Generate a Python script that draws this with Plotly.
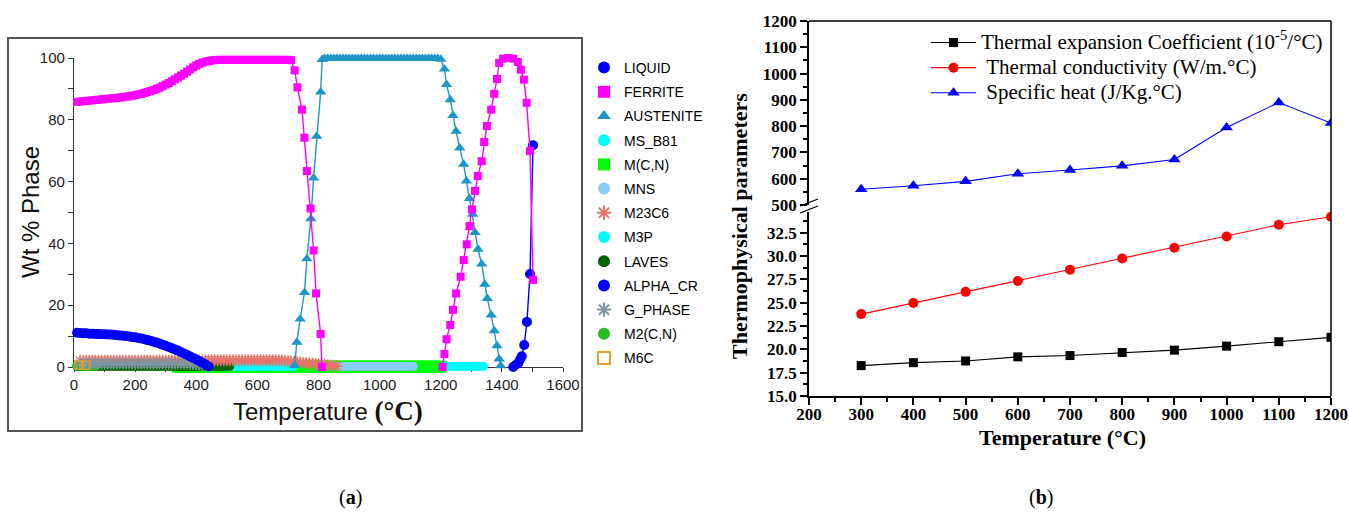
import plotly.graph_objects as go

W, H = 1349, 516
def px(x): return x / W
def py(y): return 1 - y / H

# ---------------- Panel (a): phase fractions ----------------
# LIQUID (high temperature)
liq_T = [1437, 1447, 1454, 1460, 1465, 1473, 1482, 1492, 1502]
liq_v = [0.0, 0.8, 1.3, 2.5, 3.5, 7.1, 14.6, 30.1, 71.8]

# FERRITE
fer_T = [10, 20, 30, 40, 50, 60, 70, 80, 90, 100, 110, 120, 130, 140, 150, 160, 170, 180, 190, 200,
         210, 220, 230, 240, 250, 260, 270, 280, 290, 300, 310, 320, 330, 340, 350, 360, 370, 380, 390, 400,
         410, 420, 430, 440, 450, 460, 470, 480, 490, 500, 510, 520, 530, 540, 550, 560, 570, 580, 590, 600,
         610, 620, 630, 640, 650, 660, 670, 680, 690, 700, 710,
         722, 731, 746, 754, 762, 774, 784, 792, 807, 811, None,
         1206, 1212, 1219, 1231, 1240, 1250, 1265, 1275, 1285, 1294, 1302, 1312, 1321, 1334, 1342, 1351,
         1365, 1375, 1384, 1391, 1404, 1422, 1437, 1452, 1462, 1472, 1481, 1492, 1502]
fer_v = [85.8, 85.9, 86.0, 86.1, 86.2, 86.3, 86.4, 86.5, 86.6, 86.7, 86.8, 86.9, 87.0, 87.1, 87.2, 87.3, 87.5, 87.6, 87.8, 88.0,
         88.2, 88.4, 88.7, 89.0, 89.3, 89.6, 90.0, 90.4, 90.9, 91.4, 91.9, 92.5, 93.1, 93.7, 94.3, 94.9, 95.6, 96.3, 97.0, 97.6,
         98.1, 98.5, 98.8, 99.0, 99.2, 99.3, 99.4, 99.4, 99.4, 99.4, 99.4, 99.4, 99.4, 99.4, 99.4, 99.4, 99.4, 99.4, 99.4, 99.4,
         99.4, 99.4, 99.4, 99.4, 99.4, 99.4, 99.4, 99.4, 99.4, 99.4, 99.3,
         96.0, 90.5, 83.3, 74.2, 63.4, 51.3, 37.7, 23.8, 10.7, 0.0, None,
         0.0, 4.2, 9.0, 13.6, 18.5, 23.8, 29.2, 34.6, 39.7, 45.6, 51.0, 57.0, 61.8, 66.6, 72.8, 78.0,
         83.3, 88.4, 93.2, 98.4, 99.8, 100.0, 99.8, 98.7, 96.2, 93.0, 85.5, 69.9, 28.2]

# AUSTENITE
aus_T = [722, 729, 740, 754, 762, 775, 784, 794, 807, 812,
         820, 830, 840, 850, 860, 870, 880, 890, 900, 910, 920, 930, 940, 950, 960, 970, 980, 990, 1000,
         1010, 1020, 1030, 1040, 1050, 1060, 1070, 1080, 1090, 1100, 1110, 1120, 1130, 1140, 1150, 1160,
         1170, 1180, 1190, 1200,
         1212, 1219, 1231, 1240, 1250, 1262, 1275, 1284, 1294, 1304, 1312, 1322, 1334, 1344, 1352, 1365,
         1375, 1384, 1391, 1396]
aus_v = [0.5, 8.0, 15.5, 24.1, 35.0, 48.0, 61.2, 74.7, 89.0, 99.5,
         99.8, 99.8, 99.8, 99.8, 99.8, 99.8, 99.8, 99.8, 99.8, 99.8, 99.8, 99.8, 99.8, 99.8, 99.8, 99.8, 99.8, 99.8, 99.8,
         99.8, 99.8, 99.8, 99.8, 99.8, 99.8, 99.8, 99.8, 99.8, 99.8, 99.8, 99.8, 99.8, 99.8, 99.8, 99.8,
         99.8, 99.8, 99.8, 99.6,
         96.4, 91.4, 86.5, 81.4, 76.3, 70.9, 65.6, 60.2, 54.5, 49.4, 43.5, 38.1, 33.3, 26.8, 22.2, 16.8,
         11.7, 6.9, 2.6, 0.4]

# ALPHA_CR (low temperature)
acr_T = [10, 20, 30, 40, 50, 60, 70, 80, 90, 100, 110, 120, 130, 140, 150, 160, 170, 180, 190, 200,
         210, 220, 230, 240, 250, 260, 270, 280, 290, 300, 310, 320, 330, 340, 350, 360, 370, 380, 390, 400,
         410, 420, 430, 440]
acr_v = [11.1, 11.0, 10.9, 10.9, 10.8, 10.8, 10.7, 10.7, 10.6, 10.6, 10.5, 10.5, 10.4, 10.3, 10.2, 10.1, 10.0, 9.9, 9.7, 9.6,
         9.4, 9.2, 9.0, 8.7, 8.5, 8.2, 7.9, 7.6, 7.2, 6.9, 6.5, 6.1, 5.7, 5.3, 4.8, 4.4, 3.9, 3.4, 2.9, 2.4,
         1.9, 1.4, 0.8, 0.2]

# M23C6
m23_T = [20, 30, 40, 50, 60, 70, 80, 90, 100, 110, 120, 130, 140, 150, 160, 170, 180, 190, 200, 210,
         220, 230, 240, 250, 260, 270, 280, 290, 300, 310, 320, 330, 340, 350, 360, 370, 380, 390, 400, 410,
         420, 430, 440, 450, 460, 470, 480, 490, 500, 510, 520, 530, 540, 550, 560, 570, 580, 590, 600, 610,
         620, 630, 640, 650, 660, 670, 680, 690, 700, 710, 720, 730, 740, 750, 760, 770, 780, 790, 800, 810,
         820, 830, 840, 850, 860]
m23_v = [2.0, 2.0, 2.0, 2.0, 2.0, 2.0, 2.0, 2.0, 2.0, 2.0, 2.0, 2.0, 2.0, 2.0, 2.0, 2.0, 2.0, 2.0, 2.0, 2.0,
         2.0, 2.0, 2.0, 2.0, 2.0, 2.0, 2.0, 2.0, 2.0, 2.0, 2.0, 2.0, 2.0, 2.0, 2.0, 2.0, 2.1, 2.1, 2.1, 2.1,
         2.1, 2.1, 2.2, 2.2, 2.2, 2.2, 2.2, 2.2, 2.2, 2.2, 2.2, 2.2, 2.2, 2.2, 2.2, 2.2, 2.2, 2.2, 2.2, 2.2,
         2.2, 2.2, 2.2, 2.2, 2.2, 2.2, 2.1, 2.0, 1.9, 1.8, 1.7, 1.6, 1.5, 1.4, 1.3, 1.2, 1.1, 1.0, 0.9, 0.8,
         0.7, 0.6, 0.5, 0.4, 0.3]

# G_PHASE
gph_T = [20, 30, 40, 50, 60, 70, 80, 90, 100, 110, 120, 130, 140, 150, 160, 170, 180, 190, 200, 210,
         220, 230, 240, 250, 260, 270, 280, 290, 300, 310, 320, 330, 340, 350, 360, 370, 380, 390, 400, 410,
         420, 430]
gph_v = [1.1, 1.1, 1.1, 1.1, 1.1, 1.1, 1.1, 1.1, 1.1, 1.1, 1.1, 1.1, 1.1, 1.1, 1.1, 1.1, 1.1, 1.1, 1.1, 1.1,
         1.1, 1.1, 1.1, 1.1, 1.1, 1.1, 1.1, 1.1, 1.1, 1.1, 1.1, 1.1, 1.1, 1.1, 1.1, 1.1, 1.0, 1.0, 0.9, 0.8,
         0.7, 0.6]

# LAVES
lav_T = [10, 20, 30, 40, 50, 60, 70, 80, 90, 100, 110, 120, 130, 140, 150, 160, 170, 180, 190, 200,
         210, 220, 230, 240, 250, 260, 270, 280, 290, 300, 310, 320, 330, 340, 350, 360, 370, 380, 390, 400,
         410, 420, 430, 440, 450, 460, 470, 480, 490, 500, 510]
lav_v = [0.2, 0.2, 0.2, 0.2, 0.2, 0.2, 0.2, 0.2, 0.2, 0.2, 0.2, 0.2, 0.2, 0.2, 0.2, 0.2, 0.2, 0.2, 0.2, 0.2,
         0.2, 0.2, 0.2, 0.2, 0.2, 0.2, 0.2, 0.2, 0.2, 0.2, 0.2, 0.2, 0.2, 0.2, 0.2, 0.2, 0.2, 0.2, 0.2, 0.2,
         0.2, 0.2, 0.2, 0.2, 0.2, 0.2, 0.2, 0.2, 0.2, 0.2, 0.2]

# M(C,N)
mcn_T = [340, 350, 360, 370, 380, 390, 400, 410, 420, 430, 440, 450, 460, 470, 480, 490, 500, 510, 520, 530,
         540, 550, 560, 570, 580, 590, 600, 610, 620, 630, 640, 650, 660, 670, 680, 690, 700, 710, 720, 730,
         740, 750, 760, 770, 780, 790, 800, 810, 820, 830, 840, 850, 860, 870, 880, 890, 900, 910, 920, 930,
         940, 950, 960, 970, 980, 990, 1000, 1010, 1020, 1030, 1040, 1050, 1060, 1070, 1080, 1090, 1100,
         1110, 1120, 1130, 1140, 1150, 1160, 1170, 1180, 1190, 1200]
mcn_v = [0.1, 0.1, 0.1, 0.1, 0.1, 0.1, 0.1, 0.1, 0.1, 0.1, 0.1, 0.1, 0.1, 0.1, 0.1, 0.1, 0.1, 0.1, 0.1, 0.1,
         0.1, 0.1, 0.1, 0.1, 0.1, 0.1, 0.1, 0.1, 0.1, 0.1, 0.1, 0.1, 0.1, 0.1, 0.1, 0.1, 0.1, 0.1, 0.1, 0.1,
         0.1, 0.1, 0.1, 0.1, 0.1, 0.1, 0.1, 0.1, 0.1, 0.1, 0.1, 0.1, 0.1, 0.1, 0.1, 0.1, 0.1, 0.1, 0.1, 0.1,
         0.1, 0.1, 0.1, 0.1, 0.1, 0.1, 0.1, 0.1, 0.1, 0.1, 0.1, 0.1, 0.1, 0.1, 0.1, 0.1, 0.1,
         0.1, 0.1, 0.1, 0.1, 0.1, 0.1, 0.1, 0.1, 0.1, 0.1]

# MS_B81
msb_T = [510, 520, 530, 540, 550, 560, 570, 580, 590, 600, 610, 620, 630, 640, 650, 660, 670, 680, 690, 700, 710, 720]
msb_v = [0.2, 0.2, 0.2, 0.2, 0.2, 0.2, 0.2, 0.2, 0.2, 0.2, 0.2, 0.2, 0.2, 0.2, 0.2, 0.2, 0.2, 0.2, 0.2, 0.2, 0.2, 0.2]

# MNS
mns_T = [870, 880, 890, 900, 910, 920, 930, 940, 950, 960, 970, 980, 990, 1000, 1010, 1020, 1030, 1040, 1050,
         1060, 1070, 1080, 1090, 1100, 1110]
mns_v = [0.2, 0.2, 0.2, 0.2, 0.2, 0.2, 0.2, 0.2, 0.2, 0.2, 0.2, 0.2, 0.2, 0.2, 0.2, 0.2, 0.2, 0.2, 0.2,
         0.2, 0.2, 0.2, 0.2, 0.2, 0.2]

# M3P
m3p_T = [1210, 1220, 1230, 1240, 1250, 1260, 1270, 1280, 1290, 1300, 1310, 1320, 1330, 1340]
m3p_v = [0.2, 0.2, 0.2, 0.2, 0.2, 0.2, 0.2, 0.2, 0.2, 0.2, 0.2, 0.2, 0.2, 0.2]

# M2(C,N)
m2c_T = [10, 20, 30, 40, 50, 60, 70]
m2c_v = [0.4, 0.4, 0.4, 0.4, 0.4, 0.4, 0.4]

# M6C
m6c_T = [16, 39]
m6c_v = [0.7, 0.5]

phase_names = ["LIQUID", "FERRITE", "AUSTENITE", "MS_B81", "M(C,N)", "MNS", "M23C6",
               "M3P", "LAVES", "ALPHA_CR", "G_PHASE", "M2(C,N)", "M6C"]

# ---------------- Panel (b): thermophysical parameters ----------------
temp_b = [300, 400, 500, 600, 700, 800, 900, 1000, 1100, 1200]
thermal_expansion = [18.25, 18.57, 18.75, 19.19, 19.33, 19.66, 19.91, 20.34, 20.81, 21.28]
thermal_conductivity = [23.77, 24.96, 26.15, 27.31, 28.53, 29.72, 30.88, 32.07, 33.33, 34.2]
specific_heat = [560, 573, 590, 619, 633, 649, 673, 795, 890, 812]

# ---------------- styles ----------------
styles = {
    "LIQUID":   dict(symbol="circle", color="#0000FF", size=10),
    "FERRITE":  dict(symbol="square", color="#FF00FF", size=8),
    "AUSTENITE": dict(symbol="triangle-up", color="#1E96C8", size=10),
    "MS_B81":   dict(symbol="circle", color="#00FFFF", size=9),
    "M(C,N)":   dict(symbol="square", color="#00FF00", size=12),
    "MNS":      dict(symbol="circle", color="#87CEFA", size=9),
    "M23C6":    dict(symbol="asterisk-open", color="#E8736C", size=10),
    "M3P":      dict(symbol="circle", color="#00FFFF", size=9),
    "LAVES":    dict(symbol="circle", color="#006400", size=9),
    "ALPHA_CR": dict(symbol="circle", color="#0000FF", size=10),
    "G_PHASE":  dict(symbol="asterisk-open", color="#7F979E", size=10),
    "M2(C,N)":  dict(symbol="circle", color="#22C022", size=10),
    "M6C":      dict(symbol="square-open", color="#E0A030", size=8),
}

series = {
    "LIQUID": (liq_T, liq_v), "FERRITE": (fer_T, fer_v), "AUSTENITE": (aus_T, aus_v),
    "MS_B81": (msb_T, msb_v), "M(C,N)": (mcn_T, mcn_v), "MNS": (mns_T, mns_v),
    "M23C6": (m23_T, m23_v), "M3P": (m3p_T, m3p_v), "LAVES": (lav_T, lav_v),
    "ALPHA_CR": (acr_T, acr_v), "G_PHASE": (gph_T, gph_v), "M2(C,N)": (m2c_T, m2c_v),
    "M6C": (m6c_T, m6c_v),
}

draw_order = ["LIQUID", "M(C,N)", "MNS", "MS_B81", "M3P", "LAVES", "M2(C,N)", "M23C6", "G_PHASE",
              "M6C", "ALPHA_CR", "AUSTENITE", "FERRITE"]

fig = go.Figure()

def marker_dict(name):
    s = styles[name]
    m = dict(symbol=s["symbol"], color=s["color"], size=s["size"])
    if "open" in s["symbol"]:
        m["line"] = dict(color=s["color"], width=1.3)
    else:
        m["line"] = dict(width=0)
    return m

for name in draw_order:
    T, v = series[name]
    fig.add_trace(go.Scatter(
        x=T, y=v, mode="lines+markers", name=name, showlegend=False,
        line=dict(color=styles[name]["color"], width=1.4),
        marker=marker_dict(name), cliponaxis=False, xaxis="x", yaxis="y"))

# legend entries (panel a)
for name in phase_names:
    fig.add_trace(go.Scatter(
        x=[None], y=[None], mode="markers", name=name, legend="legend",
        legendgroup=name, marker=marker_dict(name), xaxis="x", yaxis="y"))

LEG_B = "<span style='font-size:21px'>%s</span>"
# panel b traces
fig.add_trace(go.Scatter(
    x=temp_b, y=thermal_expansion, mode="lines+markers",
    name=LEG_B % "Thermal expansion Coefficient (10<sup>-5</sup>/°C)",
    line=dict(color="black", width=1.1), marker=dict(symbol="square", size=9, color="black"),
    xaxis="x2", yaxis="y3", legend="legend2"))
fig.add_trace(go.Scatter(
    x=temp_b, y=thermal_conductivity, mode="lines+markers",
    name=LEG_B % "\u00a0Thermal conductivity (W/m.°C)",
    line=dict(color="red", width=1.1), marker=dict(symbol="circle", size=10, color="red"),
    xaxis="x2", yaxis="y3", legend="legend2"))
fig.add_trace(go.Scatter(
    x=temp_b, y=specific_heat, mode="lines+markers",
    name=LEG_B % "\u00a0Specific heat (J/Kg.°C)",
    line=dict(color="blue", width=1.1), marker=dict(symbol="triangle-up", size=11, color="blue"),
    xaxis="x2", yaxis="y2", legend="legend2"))

ax_a_font = dict(family="Arial", size=15, color="#222222")
ax_b_font = dict(family="Liberation Serif", size=17, color="black", weight="bold")

shapes = [
    dict(type="rect", xref="paper", yref="paper", x0=px(8), x1=px(582), y0=py(431), y1=py(38),
         line=dict(color="#555555", width=2)),
    dict(type="line", xref="paper", yref="paper", x0=px(809), x1=px(1331), y0=py(21), y1=py(21),
         line=dict(color="black", width=1.5)),
    dict(type="line", xref="paper", yref="paper", x0=px(1331), x1=px(1331), y0=py(21), y1=py(396),
         line=dict(color="black", width=1.5)),
    dict(type="line", xref="paper", yref="paper", x0=px(800), x1=px(818), y0=py(206), y1=py(199),
         line=dict(color="black", width=1.3)),
    dict(type="line", xref="paper", yref="paper", x0=px(800), x1=px(818), y0=py(213), y1=py(206),
         line=dict(color="black", width=1.3)),
]

def ann(text, x, y, font, angle=0):
    return dict(text=text, x=px(x), y=py(y), xref="paper", yref="paper", xanchor="center",
                yanchor="middle", textangle=angle, showarrow=False, font=font)

annotations = [
    ann("Wt % Phase", 30, 212, dict(family="Arial", size=24, color="#111111"), -90),
    ann('Temperature <span style="font-family:\'Liberation Serif\',serif;font-size:27px;font-weight:bold">(°C)</span>',
        328, 411, dict(family="Arial", size=24, color="#111111")),
    ann("<b>Temperature (°C)</b>", 1062, 437, dict(family="Liberation Serif", size=22, color="black")),
    ann("<b>Thermophysical parameters</b>", 739, 226, dict(family="Liberation Serif", size=22, color="black"), -90),
    ann("(<b>a</b>)", 350, 497, dict(family="Liberation Serif", size=20, color="black")),
    ann("(<b>b</b>)", 1041, 497, dict(family="Liberation Serif", size=20, color="black")),
]

common = dict(automargin=False, showgrid=False, zeroline=False)

fig.update_layout(
    template="none",
    width=W, height=H, margin=dict(l=0, r=0, t=0, b=0, autoexpand=False),
    paper_bgcolor="white", plot_bgcolor="rgba(0,0,0,0)",
    xaxis=dict(domain=[px(74), px(563)], range=[0, 1600], anchor="y", showline=True, linecolor="#333333",
               linewidth=1.2, ticks="outside", ticklen=4, tickcolor="#333333", tick0=0, dtick=200,
               minor=dict(dtick=100, ticks="outside", ticklen=4, tickcolor="#333333"),
               tickfont=ax_a_font, layer="below traces", **common),
    yaxis=dict(domain=[py(367), py(58)], range=[0, 100], anchor="x", showline=True, linecolor="#333333",
               linewidth=1.2, ticks="outside", ticklen=5, tickcolor="#333333", tick0=0, dtick=20,
               minor=dict(dtick=10, ticks="outside", ticklen=5, tickcolor="#333333"),
               tickfont=ax_a_font, layer="below traces", **common),
    xaxis4=dict(overlaying="x", anchor="y", range=[0, 1600], ticks="inside", ticklen=4, tickcolor="#333333",
                tick0=0, dtick=100, showticklabels=False, showline=False, layer="below traces", **common),
    yaxis4=dict(overlaying="y", anchor="x", range=[0, 100], ticks="inside", ticklen=3, tickcolor="#333333",
                tick0=0, dtick=10, showticklabels=False, showline=False, layer="below traces", **common),
    xaxis2=dict(domain=[px(809), px(1331)], range=[200, 1200], anchor="y3", showline=True, linecolor="black",
                linewidth=1.5, ticks="outside", ticklen=7, tickwidth=1.5, tickcolor="black", tick0=200, dtick=100,
                minor=dict(dtick=50, ticks="outside", ticklen=4, tickwidth=1.5, tickcolor="black"),
                tickfont=ax_b_font, ticklabelstandoff=-5, **common),
    yaxis2=dict(domain=[py(205), py(21)], range=[500, 1200], anchor="x2", showline=True, linecolor="black",
                linewidth=1.5, ticks="outside", ticklen=7, tickwidth=1.5, tickcolor="black", tick0=500, dtick=100,
                minor=dict(dtick=50, ticks="outside", ticklen=4, tickwidth=1.5, tickcolor="black"),
                tickfont=ax_b_font, **common),
    yaxis3=dict(domain=[py(396), py(212)], range=[15, 34.7], anchor="x2", showline=True, linecolor="black",
                linewidth=1.5, ticks="outside", ticklen=7, tickwidth=1.5, tickcolor="black", tick0=15, dtick=2.5,
                tickformat=".1f",
                minor=dict(dtick=1.25, ticks="outside", ticklen=4, tickwidth=1.5, tickcolor="black"),
                tickfont=ax_b_font, **common),
    legend=dict(x=px(584), y=py(52), xanchor="left", yanchor="top", bgcolor="rgba(0,0,0,0)",
                font=dict(family="Arial", size=14, color="#000000"), itemsizing="constant",
                tracegroupgap=3, itemclick=False),
    legend2=dict(x=px(926), y=py(25), xanchor="left", yanchor="top", bgcolor="rgba(0,0,0,0)",
                 font=dict(family="Liberation Serif", size=17, color="black"), itemsizing="trace",
                 tracegroupgap=0, itemwidth=45),
    shapes=shapes, annotations=annotations, showlegend=True,
)

fig.write_html("out.html")
